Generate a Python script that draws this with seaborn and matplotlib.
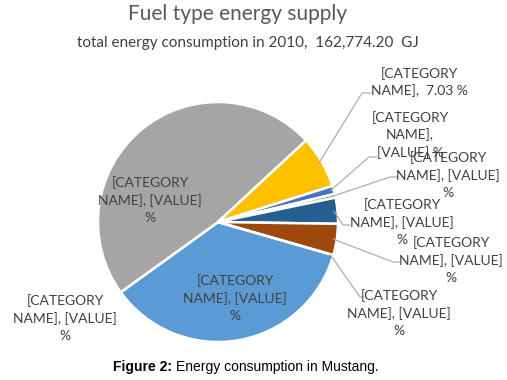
import matplotlib.pyplot as plt
import seaborn as sns
import numpy as np

# slice shares (%) in the order Excel drew them, clockwise
shares = [35.6, 0.0, 48.06, 7.03, 1.1, 0.5, 3.5, 4.2, 0.0]
colors = ['#5B9BD5', '#ED7D31', '#A5A5A5', '#FFC000', '#4472C4',
          '#70AD47', '#255E91', '#9E480E', '#636363']
labels = [
    '[CATEGORY\nNAME], [VALUE]\n%',
    '[CATEGORY\nNAME], [VALUE]\n%',
    '[CATEGORY\nNAME], [VALUE]\n%',
    '[CATEGORY\nNAME],  7.03 %',
    '[CATEGORY\nNAME],\n[VALUE] %',
    '[CATEGORY\nNAME], [VALUE]\n%',
    '[CATEGORY\nNAME], [VALUE]\n%',
    '[CATEGORY\nNAME], [VALUE]\n%',
    '[CATEGORY\nNAME], [VALUE]\n%',
]
title = 'Fuel type energy supply'
subtitle = 'total energy consumption in 2010,  162,774.20  GJ'

W, H = 507, 380
sns.set_style('white')
plt.rcParams['font.family'] = ['Lato', 'DejaVu Sans']

fig = plt.figure(figsize=(W / 100, H / 100), dpi=100)
ax = fig.add_axes([0, 0, 1, 1])

cx, cy, rad = 218, H - 222, 120
wedges, _ = ax.pie(shares, colors=sns.color_palette(colors), center=(cx, cy), radius=rad,
                   startangle=-16, counterclock=False,
                   wedgeprops=dict(edgecolor='white', linewidth=1.8))
ax.set_xlim(0, W)
ax.set_ylim(0, H)
ax.axis('off')

def py(y):
    return H - y

txt_color = '#404040'
line_color = '#A6A6A6'
fs = 10

# label placement: (text centre), leader elbow, leader end ; None = no leader
layout = {
    0: ((235, 298), None),
    1: ((65, 318), None),
    2: ((150, 200), None),
    3: ((419, 82), [(362, 93), (371, 93)]),
    4: ((410, 135), [(369, 157), (377, 157)]),
    5: ((448, 175), [(390, 177), (398, 177)]),
    6: ((402, 222), [(343, 225), (350, 225)]),
    7: ((451, 260), [(393, 262), (400, 262)]),
    8: ((399, 313), [(360, 297), (364, 297)]),
}

for i, w in enumerate(wedges):
    (tx, ty), leader = layout[i]
    ax.text(tx, py(ty), labels[i], ha='center', va='center', multialignment='center',
            fontsize=fs, color=txt_color, linespacing=1.45)
    if leader:
        mid = np.deg2rad((w.theta1 + w.theta2) / 2)
        r = rad * 0.97
        xs = [cx + r * np.cos(mid)] + [p[0] for p in leader]
        ys = [cy + r * np.sin(mid)] + [py(p[1]) for p in leader]
        ax.plot(xs, ys, color=line_color, lw=0.8)

fig.text(238 / W, 1 - 14 / H, title, ha='center', va='center', fontsize=15, color='#595959')
fig.text(248 / W, 1 - 43 / H, subtitle, ha='center', va='center', fontsize=11, color='#404040')

cap_y = 1 - 367 / H
t1 = fig.text(113 / W, cap_y, 'Figure 2:', ha='left', va='center', fontsize=10,
              fontweight='bold', family='Liberation Sans', color='black')
fig.canvas.draw()
bb = t1.get_window_extent()
fig.text((bb.x1 + 4) / W, cap_y, 'Energy consumption in Mustang.', ha='left', va='center',
         fontsize=10, family='Liberation Sans', color='black')

fig.savefig('out.png', dpi=100)
